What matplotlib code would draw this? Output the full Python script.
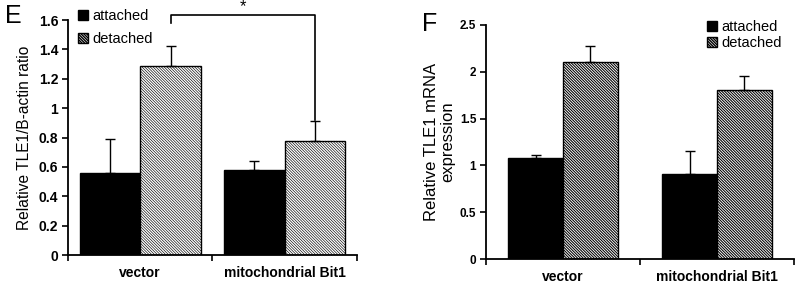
import matplotlib
matplotlib.use("Agg")
import matplotlib.pyplot as plt
import numpy as np
from matplotlib.patches import Patch

plt.rcParams['font.family'] = ['Liberation Sans', 'DejaVu Sans']

categories = ["vector", "mitochondrial Bit1"]
series = ["attached", "detached"]

# Panel E: Relative TLE1/B-actin ratio
e_attached = [0.56, 0.58]
e_attached_err = [0.23, 0.06]
e_detached = [1.29, 0.78]
e_detached_err = [0.13, 0.13]
e_yticks = [0, 0.2, 0.4, 0.6, 0.8, 1.0, 1.2, 1.4, 1.6]
e_yticklabels = ["0", "0.2", "0.4", "0.6", "0.8", "1", "1.2", "1.4", "1.6"]

# Panel F: Relative TLE1 mRNA expression
f_attached = [1.08, 0.91]
f_attached_err = [0.03, 0.24]
f_detached = [2.10, 1.81]
f_detached_err = [0.18, 0.15]
f_yticks = [0, 0.5, 1.0, 1.5, 2.0, 2.5]
f_yticklabels = ["0", "0.5", "1", "1.5", "2", "2.5"]

HATCH = '\\' * 12

fig = plt.figure(figsize=(8, 2.86), dpi=100)

def draw_panel(ax, att, att_err, det, det_err, width, hatch_lw, ylim, yticks, yticklabels, tick_fs):
    x = np.arange(len(categories))
    with plt.rc_context({'hatch.linewidth': hatch_lw}):
        ax.bar(x - width / 2, att, width, color='black', edgecolor='black', linewidth=1, zorder=2)
        ax.bar(x + width / 2, det, width, color='white', edgecolor='black',
               hatch=HATCH, linewidth=1, zorder=2)
    ax.errorbar(x - width / 2, att, yerr=[np.zeros(len(att)), att_err], fmt='none',
                ecolor='black', elinewidth=1, capsize=3.5, capthick=1, zorder=3)
    ax.errorbar(x + width / 2, det, yerr=[np.zeros(len(det)), det_err], fmt='none',
                ecolor='black', elinewidth=1, capsize=3.5, capthick=1, zorder=3)
    ax.set_xlim(-0.5, len(categories) - 0.5)
    ax.set_ylim(*ylim)
    ax.set_yticks(yticks)
    ax.set_yticklabels(yticklabels, fontsize=tick_fs, fontweight='bold')
    ax.set_xticks([-0.5, 0.5, 1.5])
    ax.set_xticklabels([])
    ax.set_xticks(x, minor=True)
    ax.set_xticklabels(categories, minor=True, fontsize=10, fontweight='bold')
    ax.tick_params(axis='x', which='minor', length=0, pad=8)
    ax.tick_params(axis='x', which='major', length=4, width=1.2, direction='out')
    ax.tick_params(axis='y', length=4, width=1.2, direction='out', pad=3)
    for s in ['top', 'right']:
        ax.spines[s].set_visible(False)
    for s in ['left', 'bottom']:
        ax.spines[s].set_linewidth(1.3)
    return x

# Panel E
axE = fig.add_axes([0.085, 0.108, 0.361, 0.822])
wE = 0.42
xE = draw_panel(axE, e_attached, e_attached_err, e_detached, e_detached_err, wE, 0.45,
                (0, 1.6), e_yticks, e_yticklabels, 10)
axE.set_ylabel("Relative TLE1/B-actin ratio", fontsize=11.2, labelpad=5)
# significance bracket
x1 = xE[0] + wE / 2
x2 = xE[1] + wE / 2
axE.plot([x1, x1, x2, x2], [1.58, 1.635, 1.635, 0.92], color='black', lw=1.2,
         clip_on=False, zorder=4)
axE.text((x1 + x2) / 2, 1.64, "*", ha='center', va='bottom', fontsize=12)
fig.text(0.006, 0.945, "E", fontsize=18, va='center', ha='left')

with plt.rc_context({'hatch.linewidth': 0.45}):
    hE = [Patch(facecolor='black', edgecolor='black', label=series[0]),
          Patch(facecolor='white', edgecolor='black', hatch=HATCH, label=series[1])]
axE.legend(handles=hE, loc='upper left', bbox_to_anchor=(0.097, 0.968),
           bbox_transform=fig.transFigure, frameon=False, fontsize=10.5,
           handlelength=0.7, handleheight=0.7, handletextpad=0.3, labelspacing=0.6,
           borderpad=0, borderaxespad=0)

# Panel F
axF = fig.add_axes([0.6075, 0.0944, 0.385, 0.8182])
wF = 0.357
draw_panel(axF, f_attached, f_attached_err, f_detached, f_detached_err, wF, 0.75,
           (0, 2.5), f_yticks, f_yticklabels, 8.5)
axF.set_ylabel("Relative TLE1 mRNA\nexpression", fontsize=12, labelpad=3, linespacing=1.15)
fig.text(0.528, 0.915, "F", fontsize=18, va='center', ha='left')
with plt.rc_context({'hatch.linewidth': 0.75}):
    hF = [Patch(facecolor='black', edgecolor='black', label=series[0]),
          Patch(facecolor='white', edgecolor='black', hatch=HATCH, label=series[1])]
axF.legend(handles=hF, loc='upper left', bbox_to_anchor=(0.884, 0.93),
           bbox_transform=fig.transFigure, frameon=False, fontsize=10.5,
           handlelength=0.7, handleheight=0.7, handletextpad=0.3, labelspacing=0.15,
           borderpad=0, borderaxespad=0)

fig.savefig("out.png", dpi=100)
